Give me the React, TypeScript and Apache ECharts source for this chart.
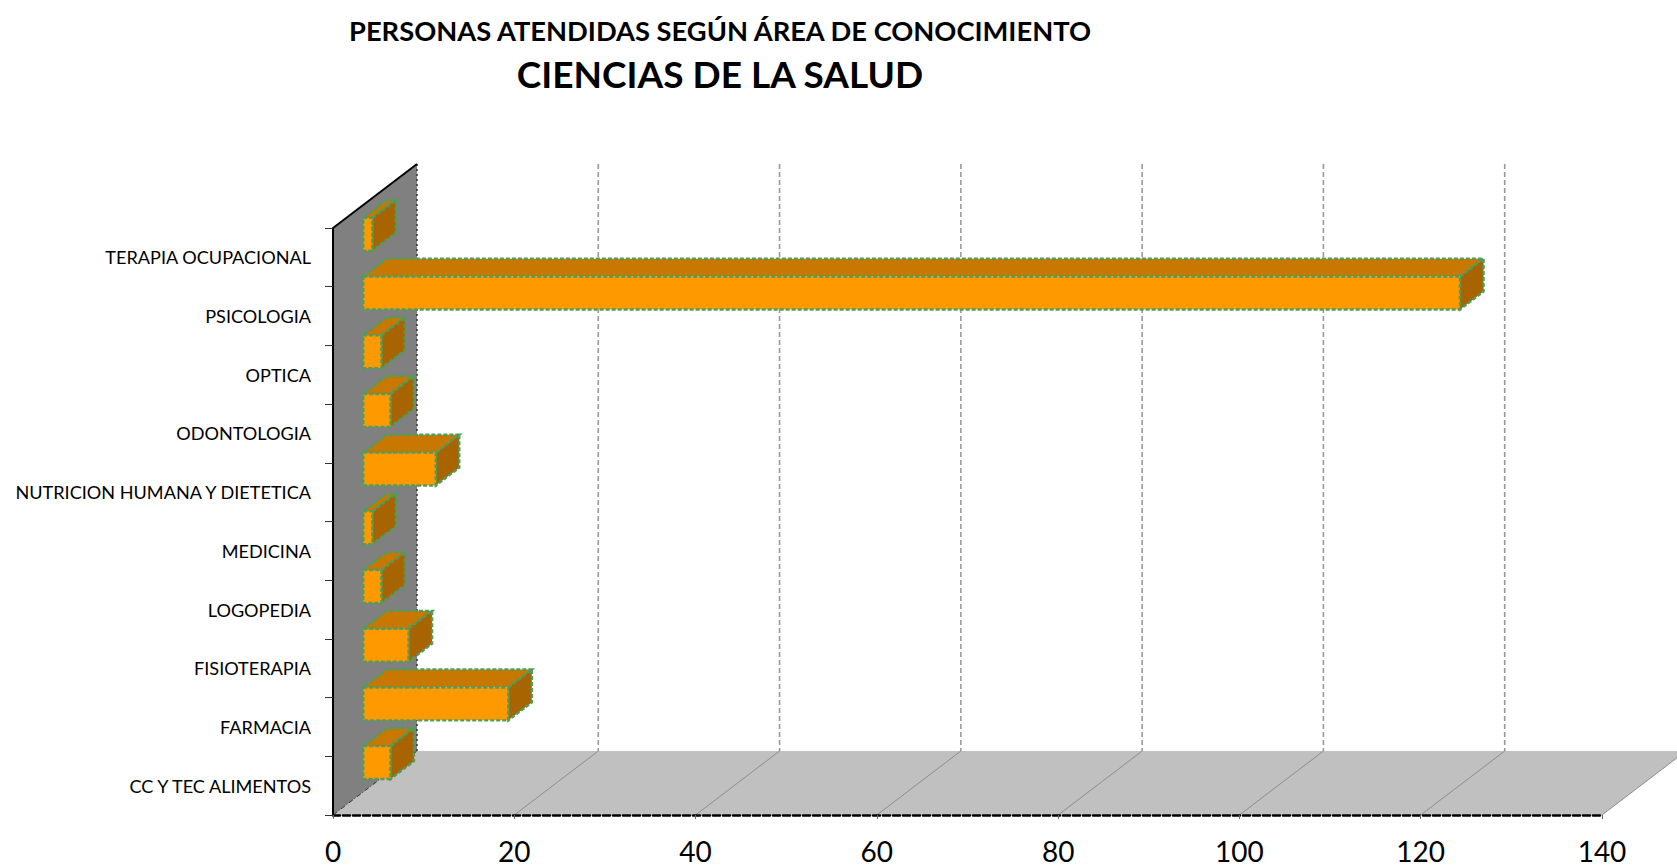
import React, { useEffect, useRef } from "react";
import * as echarts from "echarts";

const titleLine1 = "PERSONAS ATENDIDAS SEGÚN ÁREA DE CONOCIMIENTO";
const titleLine2 = "CIENCIAS DE LA SALUD";

const categories = [
  "CC Y TEC ALIMENTOS",
  "FARMACIA",
  "FISIOTERAPIA",
  "LOGOPEDIA",
  "MEDICINA",
  "NUTRICION HUMANA Y DIETETICA",
  "ODONTOLOGIA",
  "OPTICA",
  "PSICOLOGIA",
  "TERAPIA OCUPACIONAL",
];
const values = [3, 16, 5, 2, 1, 8, 3, 2, 121, 1];

const xMin = 0;
const xMax = 140;
const xInterval = 20;
const gridTicks = [20, 40, 60, 80, 100, 120, 140];

// 3D projection offsets (pixels)
const DX = 84;
const DY = -64;
const D0 = 0.36;
const D1 = 0.64;

const FONT = "Lato, 'Open Sans', sans-serif";

export default function App() {
  const ref = useRef<HTMLDivElement>(null);
  useEffect(() => {
    document.body.style.margin = "0";
    const chart = echarts.init(ref.current!, null, { renderer: "svg" });

    const renderWalls = (params: any, api: any) => {
      const cs = params.coordSys;
      const x0 = cs.x;
      const yTop = cs.y;
      const yBot = cs.y + cs.height;
      const xEnd = cs.x + cs.width;
      const children: any[] = [];
      children.push({
        type: "polygon",
        shape: { points: [[x0, yBot], [x0 + DX, yBot + DY], [xEnd + DX, yBot + DY], [xEnd, yBot]] },
        style: { fill: "#c0c0c0" },
      });
      children.push({
        type: "polygon",
        shape: { points: [[x0, yTop], [x0 + DX, yTop + DY], [x0 + DX, yBot + DY], [x0, yBot]] },
        style: { fill: "#808080" },
      });
      gridTicks.forEach((v) => {
        const xv = api.coord([v, 0])[0];
        children.push({
          type: "line",
          shape: { x1: xv + DX, y1: yTop + DY, x2: xv + DX, y2: yBot + DY },
          style: { stroke: "#999999", lineWidth: 1.6, lineDash: [5, 3] },
        });
        children.push({
          type: "line",
          shape: { x1: xv, y1: yBot, x2: xv + DX, y2: yBot + DY },
          style: { stroke: "#8c8c8c", lineWidth: 1 },
        });
      });
      children.push({
        type: "line",
        shape: { x1: x0 + DX, y1: yTop + DY, x2: x0 + DX, y2: yBot + DY },
        style: { stroke: "#333333", lineWidth: 1.5, lineDash: [2, 3] },
      });
      children.push({
        type: "line",
        shape: { x1: x0, y1: yTop, x2: x0 + DX, y2: yTop + DY },
        style: { stroke: "#000000", lineWidth: 2 },
      });
      children.push({
        type: "line",
        shape: { x1: x0, y1: yBot, x2: x0 + DX, y2: yBot + DY },
        style: { stroke: "#333333", lineWidth: 1, lineDash: [5, 2, 1, 2] },
      });
      return { type: "group", children };
    };

    const renderBox = (params: any, api: any) => {
      const v = api.value(0);
      const idx = api.value(1);
      const p0 = api.coord([0, idx]);
      const p1 = api.coord([v, idx]);
      const band = api.size([0, 1])[1];
      const h = band * 0.56;
      const ox = D0 * DX;
      const oy = D0 * DY;
      const bx = (D1 - D0) * DX;
      const by = (D1 - D0) * DY;
      const fx0 = p0[0] + ox;
      const fx1 = p1[0] + ox;
      const fy0 = p0[1] + oy - h / 2;
      const fy1 = p0[1] + oy + h / 2;
      const stroke = { stroke: "#4f9d5c", lineWidth: 2.4, lineDash: [4, 2] };
      return {
        type: "group",
        children: [
          {
            type: "polygon",
            shape: { points: [[fx0, fy0], [fx1, fy0], [fx1 + bx, fy0 + by], [fx0 + bx, fy0 + by]] },
            style: { fill: "#c87800", ...stroke },
          },
          {
            type: "polygon",
            shape: { points: [[fx1, fy0], [fx1 + bx, fy0 + by], [fx1 + bx, fy1 + by], [fx1, fy1]] },
            style: { fill: "#a86400", ...stroke },
          },
          {
            type: "rect",
            shape: { x: fx0, y: fy0, width: fx1 - fx0, height: fy1 - fy0 },
            style: { fill: "#ff9900", ...stroke },
          },
        ],
      };
    };

    chart.setOption({
      animation: false,
      backgroundColor: "#ffffff",
      grid: { left: 333, right: 75, top: 228, bottom: 52, containLabel: false },
      graphic: [
        {
          type: "text",
          x: 720,
          y: 30,
          style: {
            text: titleLine1,
            fontFamily: FONT,
            fontWeight: "bold",
            fontSize: 27.3,
            fill: "#000",
            textAlign: "center",
            textVerticalAlign: "middle",
          },
        },
        {
          type: "text",
          x: 720,
          y: 73,
          style: {
            text: titleLine2,
            fontFamily: FONT,
            fontWeight: "bold",
            fontSize: 37,
            fill: "#000",
            textAlign: "center",
            textVerticalAlign: "middle",
          },
        },
      ],
      xAxis: {
        type: "value",
        min: xMin,
        max: xMax,
        interval: xInterval,
        z: 10,
        axisLine: { show: true, lineStyle: { color: "#000", width: 2.5, type: [7, 3] } },
        axisTick: { show: true, length: 6, lineStyle: { color: "#666", type: "dashed" } },
        axisLabel: { fontFamily: FONT, fontSize: 28, lineHeight: 24, color: "#000", margin: 24 },
        splitLine: { show: false },
      },
      yAxis: {
        type: "category",
        data: categories,
        z: 10,
        axisLine: { show: true, lineStyle: { color: "#000", width: 2 } },
        axisTick: { show: true, length: 8, lineStyle: { color: "#333" } },
        axisLabel: { fontFamily: FONT, fontSize: 18.1, color: "#000", margin: 22 },
        splitLine: { show: false },
      },
      series: [
        {
          type: "custom",
          silent: true,
          z: 1,
          renderItem: renderWalls,
          data: [[0, 0]],
          encode: { x: 0, y: 1 },
        },
        {
          type: "custom",
          z: 3,
          renderItem: renderBox,
          data: values.map((v, i) => [v, i]),
          encode: { x: 0, y: 1 },
        },
      ],
    });
    return () => chart.dispose();
  }, []);
  return <div ref={ref} style={{ width: 1677, height: 867 }} />;
}
